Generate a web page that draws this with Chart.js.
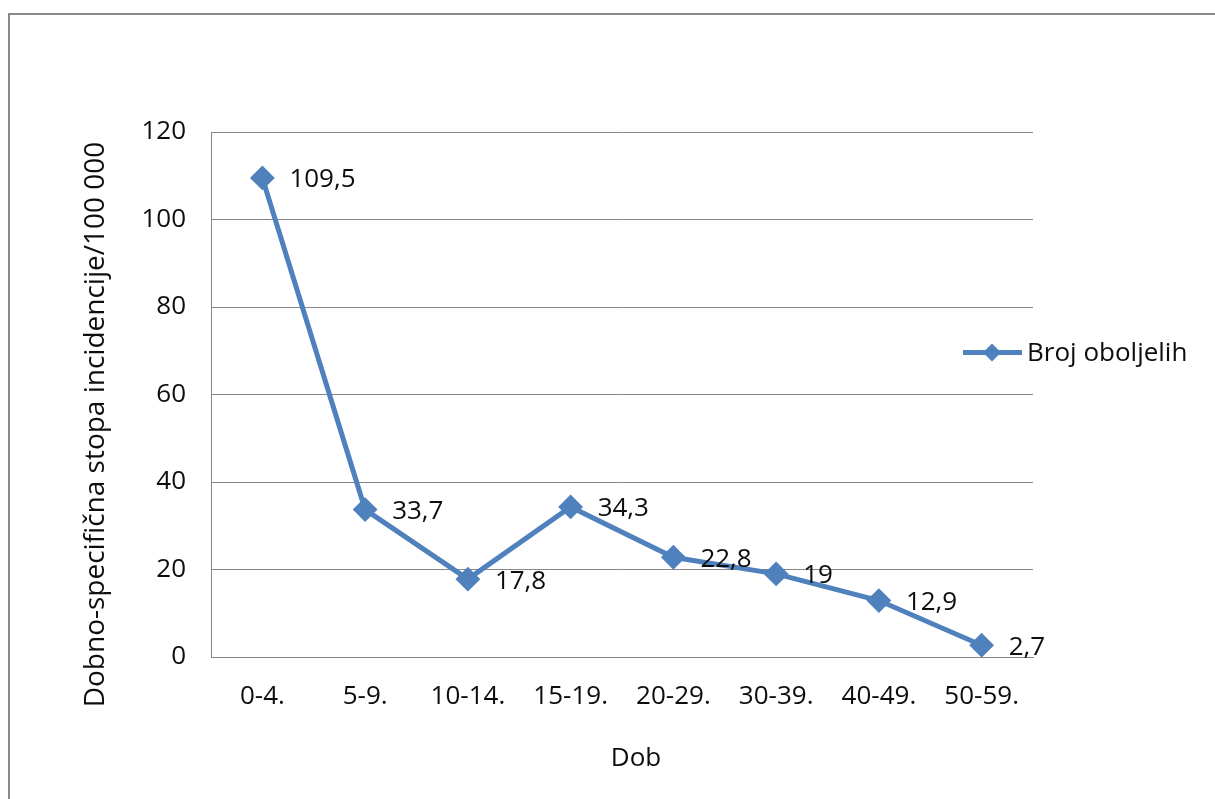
<!DOCTYPE html>
<html>
<head>
<meta charset="utf-8">
<script src="https://cdn.jsdelivr.net/npm/chart.js@4"></script>
<style>
  html, body { margin: 0; padding: 0; background: #fff; }
  #wrap { position: relative; width: 1215px; height: 799px; }
</style>
</head>
<body>
<div id="wrap"><canvas id="myChart"></canvas></div>
<script>
var age_groups = ["0-4.", "5-9.", "10-14.", "15-19.", "20-29.", "30-39.", "40-49.", "50-59."];
var incidence = [109.5, 33.7, 17.8, 34.3, 22.8, 19, 12.9, 2.7];
var value_labels = ["109,5", "33,7", "17,8", "34,3", "22,8", "19", "12,9", "2,7"];
var series_name = "Broj oboljelih";
var y_title = "Dobno-specifična stopa incidencije/100 000";
var x_title = "Dob";

var line_blue = "#4F81BD";
var grid_grey = "#868686";
var text_col = "#0d0d0d";
var font_family = "'Open Sans', Lato, sans-serif";

// outer frame (only top and left edge visible in the picture)
var framePlugin = {
  id: "frame",
  beforeDraw: function(chart){
    var ctx = chart.ctx;
    ctx.save();
    ctx.strokeStyle = "#8a8a8a";
    ctx.lineWidth = 2;
    ctx.beginPath();
    ctx.moveTo(9, 799);
    ctx.lineTo(9, 14);
    ctx.lineTo(1215, 14);
    ctx.stroke();
    ctx.restore();
  }
};

// value labels right of each point
var labelPlugin = {
  id: "valueLabels",
  afterDatasetsDraw: function(chart){
    var ctx = chart.ctx;
    var meta = chart.getDatasetMeta(0);
    ctx.save();
    ctx.font = "26px " + font_family;
    ctx.fillStyle = text_col;
    ctx.textAlign = "left";
    ctx.textBaseline = "middle";
    meta.data.forEach(function(pt, i){
      ctx.fillText(value_labels[i], pt.x + 27, pt.y + 2);
    });
    ctx.restore();
  }
};

// axis titles, placed like the Excel original (a bit off the plot centre)
var titlePlugin = {
  id: "axisTitles",
  afterDraw: function(chart){
    var ctx = chart.ctx;
    var a = chart.chartArea;
    ctx.save();
    ctx.fillStyle = text_col;
    ctx.textAlign = "center";
    ctx.textBaseline = "middle";
    ctx.font = "26px " + font_family;
    ctx.fillText(x_title, (a.left + a.right) / 2 + 14, a.bottom + 102);
    ctx.translate(a.left - 115, (a.top + a.bottom) / 2 + 30);
    ctx.rotate(-Math.PI / 2);
    ctx.font = "28px " + font_family;
    ctx.fillText(y_title, 0, 0);
    ctx.restore();
  }
};

// legend on the right: line with diamond then the name
var legendPlugin = {
  id: "sideLegend",
  afterDraw: function(chart){
    var ctx = chart.ctx;
    var y = chart.chartArea.top + (chart.chartArea.bottom - chart.chartArea.top) / 2 - 42;
    var x0 = chart.chartArea.right - 70;
    ctx.save();
    ctx.strokeStyle = line_blue;
    ctx.lineWidth = 5;
    ctx.beginPath();
    ctx.moveTo(x0, y);
    ctx.lineTo(x0 + 59, y);
    ctx.stroke();
    ctx.fillStyle = line_blue;
    ctx.beginPath();
    var cx = x0 + 29;
    ctx.moveTo(cx - 9, y);
    ctx.lineTo(cx, y - 9);
    ctx.lineTo(cx + 9, y);
    ctx.lineTo(cx, y + 9);
    ctx.closePath();
    ctx.fill();
    ctx.font = "26px " + font_family;
    ctx.fillStyle = text_col;
    ctx.textBaseline = "middle";
    ctx.fillText(series_name, x0 + 64, y + 1);
    ctx.restore();
  }
};

var ctx_chart = document.getElementById("myChart").getContext("2d");

var chart = new Chart(ctx_chart, {
  type: "line",
  data: {
    labels: age_groups,
    datasets: [
      {
        label: series_name,
        data: incidence,
        borderColor: line_blue,
        backgroundColor: line_blue,
        borderWidth: 5,
        pointStyle: "rectRot",
        pointRadius: 11,
        pointBorderWidth: 2,
        pointBackgroundColor: line_blue,
        pointBorderColor: line_blue,
        tension: 0
      }
    ]
  },
  options: {
    responsive: true,
    maintainAspectRatio: false,
    animation: false,
    layout: { padding: { left: 0, top: 132, right: 182, bottom: 0 } },
    plugins: {
      legend: { display: false },
      tooltip: { enabled: false }
    },
    scales: {
      x: {
        offset: true,
        grid: { display: false, drawTicks: false },
        border: { display: true, color: grid_grey, width: 1 },
        ticks: { color: text_col, font: { family: font_family, size: 26 }, padding: 24, maxRotation: 0 },
        afterFit: function(scale){ scale.height = 142; }
      },
      y: {
        min: 0,
        max: 120,
        ticks: { stepSize: 20, color: text_col, font: { family: font_family, size: 26 }, padding: 25 },
        grid: { color: grid_grey, drawTicks: false, lineWidth: 1 },
        border: { display: true, color: grid_grey, width: 1 },
        afterFit: function(scale){ scale.width = 211; }
      }
    }
  },
  plugins: [framePlugin, labelPlugin, titlePlugin, legendPlugin]
});
</script>
</body>
</html>
